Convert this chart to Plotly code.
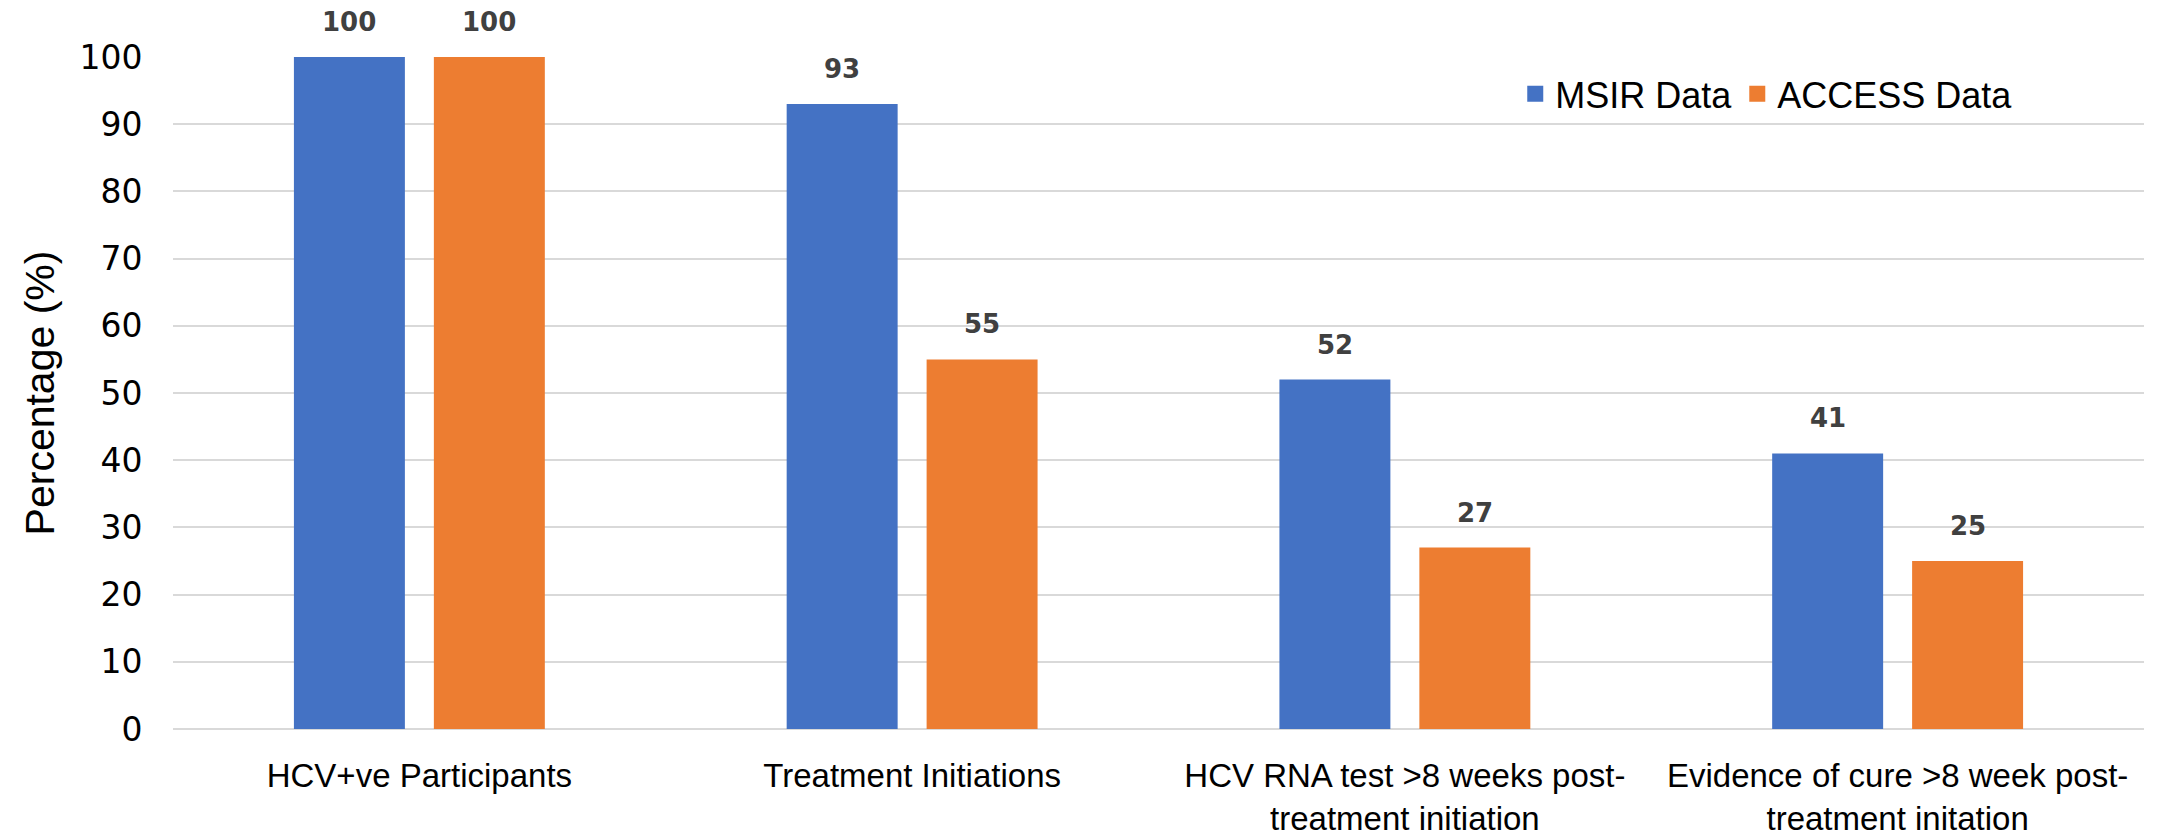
import plotly.graph_objects as go

categories = [
    "HCV+ve Participants",
    "Treatment Initiations",
    "HCV RNA test >8 weeks post-<br>treatment initiation",
    "Evidence of cure >8 week post-<br>treatment initation",
]
msir_values = [100, 93, 52, 41]
access_values = [100, 55, 27, 25]
series_names = ["MSIR Data", "ACCESS Data"]
y_ticks = [0, 10, 20, 30, 40, 50, 60, 70, 80, 90, 100]

W, H = 2164, 839
ML, MR, MT, MB = 173, 20, 57, 110
BARGAP = 0.432
BARGROUPGAP = 0.207
BLUE = "#4472C4"
ORANGE = "#ED7D31"
NARROW = "Liberation Sans Narrow, Arial Narrow, Liberation Sans, Arial, sans-serif"

fig = go.Figure()
fig.add_trace(go.Bar(x=categories, y=msir_values, name=series_names[0], showlegend=False,
                     marker=dict(color=BLUE, line=dict(width=0))))
fig.add_trace(go.Bar(x=categories, y=access_values, name=series_names[1], showlegend=False,
                     marker=dict(color=ORANGE, line=dict(width=0))))
# legend entries with square swatches
for name, col in zip(series_names, (BLUE, ORANGE)):
    fig.add_trace(go.Scatter(x=[None], y=[None], mode="markers", name=name,
                             marker=dict(symbol="square", size=24, color=col)))

# data labels placed over each bar centre
plot_w = W - ML - MR
cat_w = plot_w / len(categories)
slot = (1 - BARGAP) * cat_w / 2
for vals, sign in ((msir_values, -1), (access_values, 1)):
    for c, v in zip(categories, vals):
        fig.add_annotation(x=c, y=v, xref="x", yref="y", text=f"<b>{v}</b>",
                           showarrow=False, yanchor="bottom", xshift=sign * slot / 2,
                           yshift=18,
                           font=dict(family="DejaVu Sans", size=26, color="#404040"))

fig.update_layout(
    width=W, height=H,
    margin=dict(l=ML, r=MR, t=MT, b=MB, autoexpand=False),
    paper_bgcolor="white", plot_bgcolor="white",
    barmode="group", bargap=BARGAP, bargroupgap=BARGROUPGAP,
    showlegend=True,
    legend=dict(orientation="h", x=0.681, y=0.945, xanchor="left", yanchor="middle",
                font=dict(family=NARROW, size=36, color="#000000"),
                itemwidth=30, tracegroupgap=0, bgcolor="rgba(0,0,0,0)"),
)
fig.update_yaxes(range=[0, 100], tickvals=y_ticks, showgrid=True, automargin=False,
                 gridcolor="#D9D9D9", gridwidth=1.5, zeroline=True,
                 zerolinecolor="#D9D9D9", zerolinewidth=1.5, showline=False,
                 ticks="outside", ticklen=23, tickcolor="rgba(0,0,0,0)",
                 tickfont=dict(family="DejaVu Sans", size=33, color="#000000"),
                 title=dict(text="Percentage (%)", standoff=12,
                            font=dict(family=NARROW, size=41, color="#000000")))
fig.update_xaxes(showgrid=False, showline=False, ticks="outside", ticklen=17, automargin=False,
                 tickcolor="rgba(0,0,0,0)", tickangle=0,
                 tickfont=dict(family=NARROW, size=33, color="#000000"))

fig.write_html("out.html", config={"displayModeBar": False},
               post_script="document.body.style.margin='0';")
